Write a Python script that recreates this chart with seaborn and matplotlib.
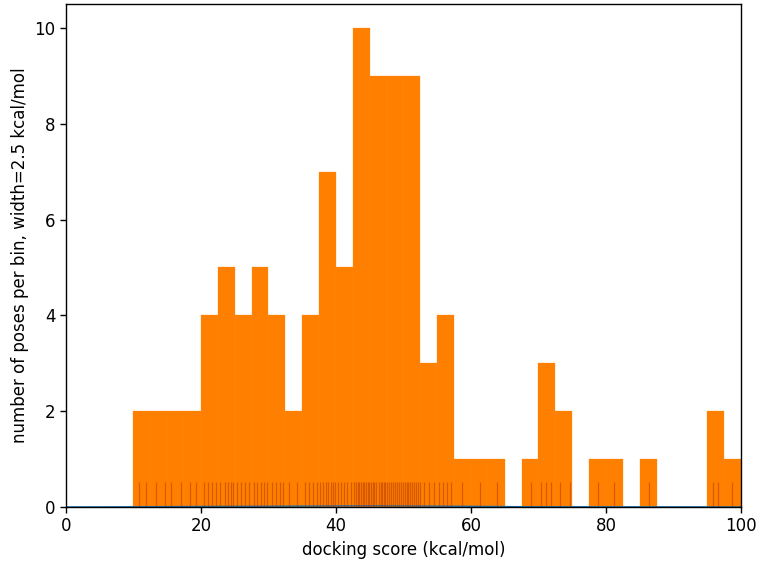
import numpy as np
import matplotlib
matplotlib.use('Agg')
import matplotlib.pyplot as plt
import seaborn as sns

sns.set_theme(style="ticks")
plt.rcParams['font.family'] = ['DejaVu Sans']
plt.rcParams['axes.edgecolor'] = 'black'
plt.rcParams['xtick.color'] = 'black'
plt.rcParams['ytick.color'] = 'black'
plt.rcParams['axes.labelcolor'] = 'black'

ORANGE = '#ff8000'
RUG = '#b83c00'

scores_10_20 = [10.8, 11.9, 13.4, 14.6, 15.6, 17.0, 18.4, 19.3]
scores_20_30 = [20.4, 21.0, 21.6, 22.2, 22.8, 23.5, 24.0, 24.4, 24.8,
                25.3, 25.9, 26.5, 27.1, 27.8, 28.3, 28.9, 29.4, 29.8]
scores_30_40 = [30.5, 31.1, 31.7, 32.2, 33.1, 34.2, 35.4, 36.0, 36.6, 37.2,
                37.7, 38.1, 38.5, 38.8, 39.2, 39.5, 39.8]
scores_40_50 = [40.3, 40.8, 41.2, 41.7, 42.2,
                42.6, 42.9, 43.2, 43.4, 43.7, 44.0, 44.2, 44.5, 44.7, 44.9,
                45.2, 45.5, 45.7, 46.0, 46.3, 46.6, 46.8, 47.1, 47.3,
                47.6, 47.9, 48.2, 48.5, 48.8, 49.0, 49.3, 49.6, 49.9]
scores_50_60 = [50.2, 50.5, 50.7, 51.0, 51.3, 51.6, 51.8, 52.1, 52.4,
                53.1, 53.8, 54.5, 55.3, 55.9, 56.4, 57.0, 58.6]
scores_60_100 = [61.3, 63.9, 68.9, 70.4, 71.1, 71.8, 73.2, 74.6,
                 78.8, 81.2, 86.3, 95.9, 96.6, 98.7]

scores = np.array(scores_10_20 + scores_20_30 + scores_30_40 +
                  scores_40_50 + scores_50_60 + scores_60_100)
bin_edges = np.arange(10, 100.01, 2.5)

fig = plt.figure(figsize=(7.61, 5.62), dpi=100)
ax = fig.add_axes([0.0867, 0.0979, 0.887, 0.895])

sns.histplot(x=scores, bins=bin_edges, stat='count', color=ORANGE, alpha=1,
             edgecolor='#ff8a14', linewidth=0.2, ax=ax)
sns.kdeplot(x=scores, color='#1f77b4', linewidth=1, ax=ax)
sns.rugplot(x=scores, height=0.05, color=RUG, alpha=0.55, linewidth=0.9, ax=ax)

for side in ['top', 'right', 'left', 'bottom']:
    ax.spines[side].set_visible(True)
    ax.spines[side].set_linewidth(1)
ax.set_xlim(0, 100)
ax.set_ylim(0, 10.5)
ax.set_xticks([0, 20, 40, 60, 80, 100])
ax.set_yticks([0, 2, 4, 6, 8, 10])
ax.tick_params(labelsize=12, length=4, width=1)
ax.set_xlabel('docking score (kcal/mol)', fontsize=12)
ax.set_ylabel('number of poses per bin, width=2.5 kcal/mol', fontsize=12)

plt.savefig('out.png', dpi=100)
plt.close()
